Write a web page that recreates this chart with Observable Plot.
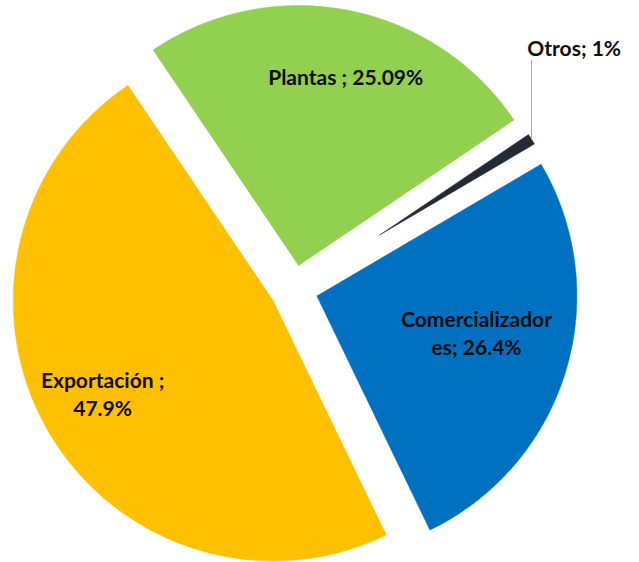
<!DOCTYPE html>
<html>
<head>
<meta charset="utf-8">
<script src="https://cdn.jsdelivr.net/npm/d3@7"></script>
<script src="https://cdn.jsdelivr.net/npm/@observablehq/plot@0.6"></script>
<style>
  html, body { margin: 0; padding: 0; background: #ffffff; }
  #chart svg { display: block; }
</style>
</head>
<body>
<div id="chart"></div>
<script>
// ---- data ----
const categories = ["Plantas", "Otros", "Comercializadores", "Exportación"];
const values = [25.09, 1, 26.4, 47.9];
const labels = ["Plantas ; 25.09%", "Otros; 1%", "Comercializador\nes; 26.4%", "Exportación ;\n47.9%"];
const colors = ["#92D050", "#222A35", "#0070C0", "#FFC000"];

// ---- layout / style constants ----
const W = 639, H = 562;
const R = 260;                 // pie radius in px
const cx = 293.5, cy = 288.5;  // pie centre in px
const startDeg = -34;          // first slice angle (clockwise from north)
// explosion (in units of R) and radius factor per category
const explode = {"Plantas": 0.092, "Otros": 0.39, "Comercializadores": 0.092, "Exportación": 0.092};
const radiusK = {"Plantas": 1, "Otros": 0.69, "Comercializadores": 1, "Exportación": 1};
// label placement: [angle offset from bisector (deg), distance from slice vertex (units of R)]
const labelPos = {
  "Plantas": [3, 0.75],
  "Otros": [-11.8, 1.04],
  "Comercializadores": [-4, 0.63],
  "Exportación": [1.5, 0.746]
};

const rad = d => d * Math.PI / 180;
const pie = d3.pie().sort(null).value(d => d.value)
  .startAngle(rad(startDeg)).endAngle(rad(startDeg + 360));
const table = categories.map((c, i) => ({name: c, value: values[i], label: labels[i]}));
const arcs = pie(table);

const points = [];
const labelRows = [];
const leaders = [];
for (const a of arcs) {
  const name = a.data.name;
  const mid = (a.startAngle + a.endAngle) / 2;
  const d = explode[name], r = radiusK[name];
  const vx = d * Math.sin(mid), vy = d * Math.cos(mid);
  points.push({name, x: vx, y: vy});
  const n = Math.max(2, Math.ceil((a.endAngle - a.startAngle) / rad(0.5)));
  for (let k = 0; k <= n; k++) {
    const t = a.startAngle + (a.endAngle - a.startAngle) * k / n;
    points.push({name, x: vx + r * Math.sin(t), y: vy + r * Math.cos(t)});
  }
  points.push({name, x: vx, y: vy});
  const [off, dist] = labelPos[name];
  const la = mid + rad(off);
  const lx = vx + dist * Math.sin(la), ly = vy + dist * Math.cos(la);
  labelRows.push({name, text: a.data.label, x: lx, y: ly});
  if (name === "Otros") {
    const ex = vx + r * Math.sin(mid), ey = vy + r * Math.cos(mid);
    leaders.push({x1: ex, y1: ey, x2: ex, y2: ly - 13 / R});
  }
}

const chart = Plot.plot({
  width: W,
  height: H,
  margin: 0,
  x: {domain: [-cx / R, (W - cx) / R], axis: null},
  y: {domain: [-(H - cy) / R, cy / R], axis: null},
  color: {domain: categories, range: colors},
  style: {background: "#ffffff"},
  marks: [
    Plot.line(points, {x: "x", y: "y", z: "name", fill: "name", stroke: "name", strokeWidth: 0.5, curve: "linear"}),
    Plot.link(leaders, {x1: "x1", y1: "y1", x2: "x2", y2: "y2", stroke: "#A6A6A6", strokeWidth: 1}),
    Plot.text(labelRows, {
      x: "x", y: "y", text: "text",
      fontFamily: "Lato", fontWeight: "bold", fontSize: 21, lineHeight: 1.33,
      fill: "#0D0D0D"
    })
  ]
});
document.getElementById("chart").appendChild(chart);
</script>
</body>
</html>
